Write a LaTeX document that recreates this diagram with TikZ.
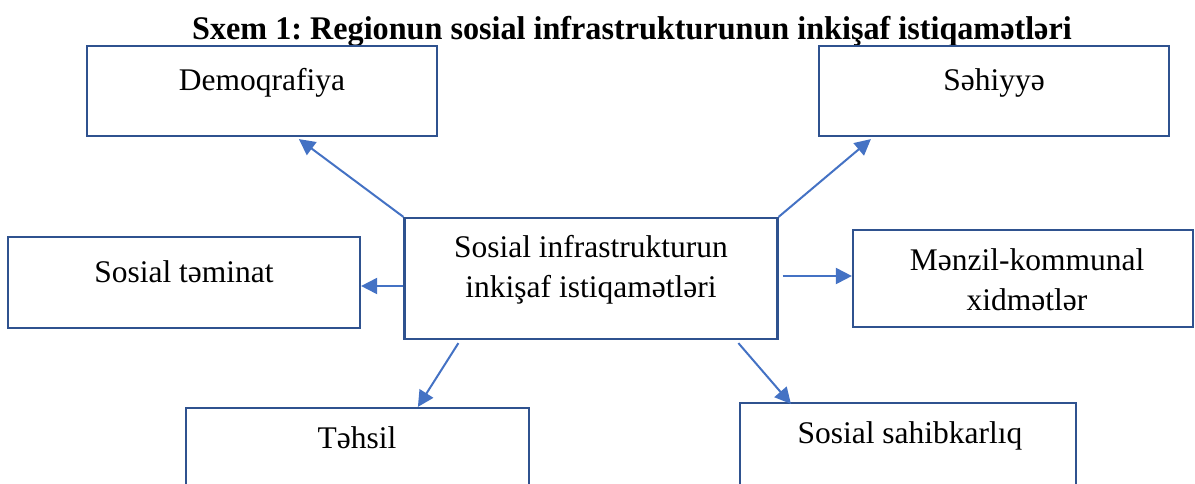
\documentclass[tikz,border=0pt]{standalone}
\usepackage{fontspec}
\setmainfont{Liberation Serif}
\frenchspacing
\usetikzlibrary{arrows.meta,calc}
\definecolor{boxblue}{HTML}{2F528F}
\definecolor{arrblue}{HTML}{4472C4}
\tikzset{
  box/.style={draw=boxblue, line width=2.2pt, fill=none, inner sep=0pt},
  lbl/.style={font=\fontsize{31.5}{39.5}\selectfont, align=center, anchor=base, inner sep=0pt},
  conn/.style={draw=arrblue, line width=2pt, -{Triangle[length=16pt,width=16pt]}, shorten >=0pt}
}
\begin{document}
\begin{tikzpicture}[x=1pt,y=-1pt]
\useasboundingbox (0,0) rectangle (1195,483);
\clip (0,0) rectangle (1195,483);
% title
\node[anchor=base, inner sep=0pt, font=\fontsize{33}{38}\selectfont\bfseries] (title) at (632,39)
  {\scalebox{0.975}[1]{Sxem 1: Regionun sosial infrastrukturunun inkişaf istiqamətləri}};
% boxes
\node[box, minimum width=350pt, minimum height=90pt] (demo) at (262,91) {};
\node[box, minimum width=350pt, minimum height=90pt] (seh) at (994,91) {};
\node[box, minimum width=352pt, minimum height=91pt] (temin) at (184,282.5) {};
\node[box, minimum width=373pt, minimum height=121pt] (center) at (591,278.5) {};
\node[box, minimum width=340pt, minimum height=97pt] (menz) at (1023,278.5) {};
\node[box, minimum width=343pt, minimum height=110pt] (tehsil) at (357.5,463) {};
\node[box, minimum width=336pt, minimum height=110pt] (sahib) at (908,458) {};
% labels
\node[lbl] (demoT) at (262,90) {Demoqrafiya};
\node[lbl] (sehT) at (994,90) {Səhiyyə};
\node[lbl] (teminT) at (184,282) {Sosial təminat};
\node[lbl] (centerT) at (591,297) {Sosial infrastrukturun\\inkişaf istiqamətləri};
\node[lbl] (menzT) at (1027,310) {Mənzil-kommunal\\xidmətlər};
\node[lbl] (tehsilT) at (357,448) {Təhsil};
\node[lbl] (sahibT) at (910,443) {Sosial sahibkarlıq};
% connectors
\draw[conn] (center.north west) -- ($(demo.south west)+(213,2)$);
\draw[conn] (center.north east) -- ($(seh.south west)+(53,2)$);
\draw[conn] ($(center.west)+(0,7.5)$) -- ($(temin.east)+(0,3.5)$);
\draw[conn] ($(center.south west)+(55,3)$) -- ($(tehsil.north west)+(233,0)$);
\draw[conn] ($(center.east)+(4,-2.5)$) -- ($(menz.west)+(0,-2.5)$);
\draw[conn] ($(center.south west)+(335,3)$) -- ($(sahib.north west)+(52,2)$);
\end{tikzpicture}
\end{document}
